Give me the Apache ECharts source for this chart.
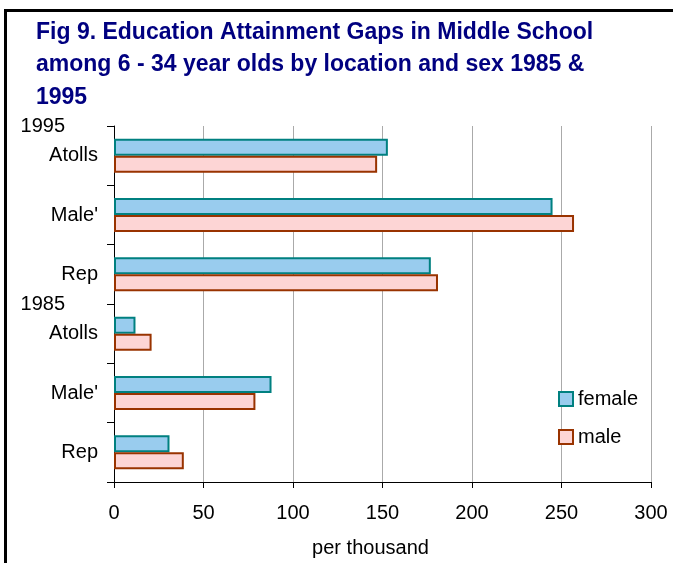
<!DOCTYPE html>
<html>
<head>
<meta charset="utf-8">
<title>Fig 9. Education Attainment Gaps in Middle School</title>
<script src="https://cdn.jsdelivr.net/npm/echarts@6/dist/echarts.min.js"></script>
<style>
  html, body { margin: 0; padding: 0; background: #ffffff; }
  #chart { width: 673px; height: 563px; }
</style>
</head>
<body>
<div id="chart"></div>
<script>
// Locations within each survey year, listed bottom to top
const locations = ['Rep', "Male'", 'Atolls'];
const years = ['1985', '1995'];

// Per-thousand values, ordered: 1985 Rep, Male', Atolls, 1995 Rep, Male', Atolls
const femaleValues = [31, 88, 12, 177, 245, 153];
const maleValues = [39, 79, 21, 181, 257, 147];

const seriesNames = ['female', 'male'];
const xMin = 0, xMax = 300, xStep = 50;

// One category per (year, location) pair
const categoryKeys = [];
years.forEach(function (y) {
  locations.forEach(function (loc) { categoryKeys.push(y + '|' + loc); });
});

const FONT = '"Liberation Sans", Arial, sans-serif';

const chart = echarts.init(document.getElementById('chart'), null, { renderer: 'canvas' });

chart.setOption({
  backgroundColor: '#ffffff',
  animation: false,
  textStyle: { fontFamily: FONT },
  title: {
    text: 'Fig 9. Education Attainment Gaps in Middle School\namong 6 - 34 year olds by location and sex 1985 &\n1995',
    left: 31,
    top: 11,
    textStyle: {
      fontFamily: FONT,
      fontSize: 23,
      fontWeight: 'bold',
      color: '#000080',
      lineHeight: 32.5
    }
  },
  graphic: [{
    type: 'rect',
    shape: { x: 5.5, y: 10.5, width: 700, height: 600 },
    style: { fill: 'none', stroke: '#000000', lineWidth: 3 },
    silent: true,
    z: 100
  }],
  legend: {
    orient: 'vertical',
    left: 553,
    top: 384,
    itemWidth: 14,
    itemHeight: 14,
    itemGap: 18,
    icon: 'rect',
    data: seriesNames,
    textStyle: { fontFamily: FONT, fontSize: 20, color: '#000000' }
  },
  grid: { left: 114, right: 22, top: 126, bottom: 80, containLabel: false },
  xAxis: {
    type: 'value',
    min: xMin,
    max: xMax,
    interval: xStep,
    name: 'per thousand',
    nameLocation: 'middle',
    nameGap: 56,
    nameTextStyle: { fontFamily: FONT, fontSize: 20, color: '#000000', padding: [0, 24, 0, 0] },
    axisLine: { show: true, lineStyle: { color: '#000000', width: 1 } },
    axisTick: { show: true, length: 6, lineStyle: { color: '#000000' } },
    axisLabel: { fontFamily: FONT, fontSize: 20, color: '#000000', margin: 21 },
    splitLine: { show: true, lineStyle: { color: '#aaaaaa', width: 1 } }
  },
  yAxis: [{
    type: 'category',
    data: categoryKeys,
    axisLine: { show: true, lineStyle: { color: '#000000', width: 1 } },
    axisTick: { show: true, length: 7, alignWithLabel: false, lineStyle: { color: '#000000' } },
    axisLabel: {
      fontFamily: FONT, fontSize: 20, color: '#000000', margin: 16,
      formatter: function (v) { return v.split('|')[1]; }
    },
    splitLine: { show: false }
  }, {
    // Year group labels sit on the boundary above each block of locations
    type: 'value',
    position: 'left',
    offset: 0,
    min: 0,
    max: categoryKeys.length,
    interval: locations.length,
    axisLine: { show: false },
    axisTick: { show: false },
    splitLine: { show: false },
    axisLabel: {
      fontFamily: FONT, fontSize: 20, color: '#000000', margin: 49,
      formatter: function (v) {
        const idx = Math.round(v / locations.length) - 1;
        return idx >= 0 && idx < years.length ? years[idx] : '';
      }
    }
  }],
  series: [{
    name: seriesNames[0],
    type: 'bar',
    yAxisIndex: 0,
    data: femaleValues,
    barWidth: 17,
    barGap: '0%',
    itemStyle: { color: '#99ccee', borderColor: '#008080', borderWidth: 2 }
  }, {
    name: seriesNames[1],
    type: 'bar',
    yAxisIndex: 0,
    data: maleValues,
    barWidth: 17,
    barGap: '0%',
    itemStyle: { color: '#fdd5d5', borderColor: '#993300', borderWidth: 2 }
  }]
});
</script>
</body>
</html>
